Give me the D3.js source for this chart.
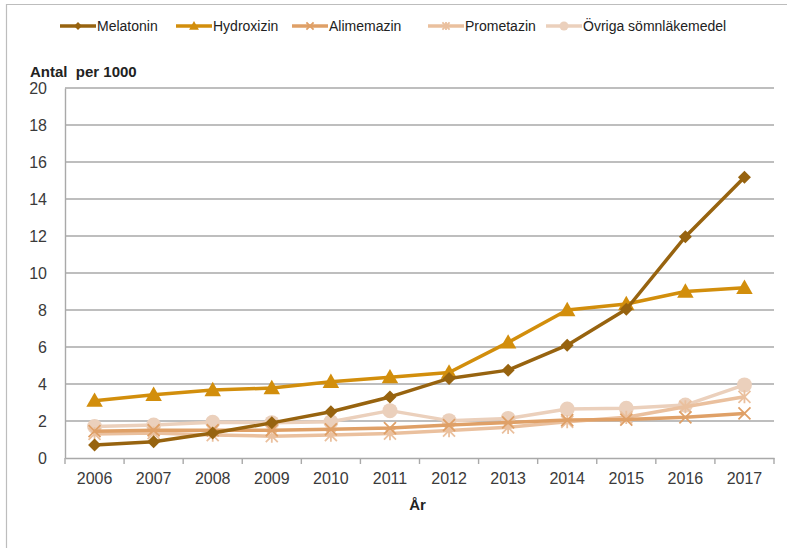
<!DOCTYPE html>
<html>
<head>
<meta charset="utf-8">
<script src="https://cdn.jsdelivr.net/npm/d3@7"></script>
<style>
  html, body { margin: 0; padding: 0; background: #fff; }
  svg { display: block; font-family: "Liberation Sans", Arial, sans-serif; }
</style>
</head>
<body>
<svg id="chart" width="787" height="548"></svg>
<script>
// Years on the x axis
const years = ["2006","2007","2008","2009","2010","2011","2012","2013","2014","2015","2016","2017"];

// Users per 1000, one array per drug group
const melatonin  = [0.7, 0.88, 1.35, 1.9, 2.5, 3.3, 4.3, 4.75, 6.1, 8.04, 11.96, 15.17];
const hydroxizin = [3.1, 3.42, 3.67, 3.78, 4.12, 4.37, 4.62, 6.25, 8.0, 8.32, 9.0, 9.2];
const alimemazin = [1.45, 1.5, 1.5, 1.5, 1.55, 1.62, 1.78, 1.92, 2.05, 2.08, 2.2, 2.41];
const prometazin = [1.3, 1.35, 1.24, 1.18, 1.24, 1.32, 1.48, 1.66, 1.96, 2.2, 2.77, 3.31];
const ovriga     = [1.7, 1.78, 1.93, 1.91, 1.96, 2.56, 2.02, 2.14, 2.65, 2.69, 2.86, 3.95];

const yTicks = [0, 2, 4, 6, 8, 10, 12, 14, 16, 18, 20];

const seriesNames = ["Melatonin", "Hydroxizin", "Alimemazin", "Prometazin", "Övriga sömnläkemedel"];
const seriesValues = [melatonin, hydroxizin, alimemazin, prometazin, ovriga];
const seriesColors = ["#97630f", "#d28e0c", "#dfa067", "#eac09e", "#ebd0bc"];
const seriesSymbols = ["diamond", "triangle", "x", "star", "circle"];

const series = seriesNames.map((name, i) => ({
  name, values: seriesValues[i], color: seriesColors[i], symbol: seriesSymbols[i]
}));

const svg = d3.select("#chart");
const plotLeft = 65, plotRight = 774, plotTop = 88, plotBottom = 458;

// Outer frame (top and left edges)
svg.append("line").attr("x1", 6).attr("x2", 787).attr("y1", 4.5).attr("y2", 4.5)
  .attr("stroke", "#bdbdbd").attr("stroke-width", 1.2);
svg.append("line").attr("x1", 6.5).attr("x2", 6.5).attr("y1", 4).attr("y2", 548)
  .attr("stroke", "#bdbdbd").attr("stroke-width", 1.2);

const x = d3.scaleBand().domain(years).range([plotLeft, plotRight]);
const xc = d => x(d) + x.bandwidth() / 2;
const y = d3.scaleLinear().domain([0, 20]).range([plotBottom, plotTop]);

// Horizontal gridlines
svg.append("g").selectAll("line").data(yTicks.filter(t => t > 0)).join("line")
  .attr("x1", plotLeft).attr("x2", plotRight)
  .attr("y1", d => y(d)).attr("y2", d => y(d))
  .attr("stroke", "#a9a9a9").attr("stroke-width", 1.4);

// Y axis
const yAxis = svg.append("g").attr("transform", `translate(${plotLeft},0)`)
  .call(d3.axisLeft(y).tickValues(yTicks).tickSize(0).tickPadding(18));
yAxis.select(".domain").attr("stroke", "#a9a9a9").attr("stroke-width", 1.4);
yAxis.selectAll("text").attr("font-size", 16).attr("fill", "#3a3a3a")
  .attr("font-family", "Liberation Sans, Arial, sans-serif");

// X axis with ticks at category boundaries
const xAxis = svg.append("g").attr("transform", `translate(0,${plotBottom})`)
  .call(d3.axisBottom(x).tickSize(0).tickPadding(15));
xAxis.select(".domain").attr("stroke", "#a9a9a9").attr("stroke-width", 1.4);
xAxis.selectAll("text").attr("font-size", 16).attr("fill", "#3a3a3a")
  .attr("font-family", "Liberation Sans, Arial, sans-serif");
const bounds = years.map(d => x(d)).concat([plotRight]);
svg.append("g").selectAll("line").data(bounds).join("line")
  .attr("x1", d => d).attr("x2", d => d)
  .attr("y1", plotBottom).attr("y2", plotBottom + 6)
  .attr("stroke", "#a9a9a9").attr("stroke-width", 1.4);

// Axis titles
svg.append("text").attr("x", 30).attr("y", 77)
  .attr("font-size", 15).attr("font-weight", "bold").attr("fill", "#222")
  .attr("xml:space", "preserve").text("Antal  per 1000");
svg.append("text").attr("x", (plotLeft + plotRight) / 2 - 2).attr("y", 510)
  .attr("text-anchor", "middle")
  .attr("font-size", 15).attr("font-weight", "bold").attr("fill", "#222").text("År");

// Marker drawing
function drawMarker(g, type, color, s) {
  if (type === "diamond") {
    g.append("path").attr("d", `M0,${-s}L${s},0L0,${s}L${-s},0Z`).attr("fill", color);
  } else if (type === "triangle") {
    const h = s * 1.1;
    g.append("path").attr("d", `M0,${-h}L${h},${h * 0.75}L${-h},${h * 0.75}Z`).attr("fill", color);
  } else if (type === "x") {
    g.append("path").attr("d", `M${-s},${-s}L${s},${s}M${-s},${s}L${s},${-s}`)
      .attr("stroke", color).attr("stroke-width", 1.8).attr("fill", "none");
  } else if (type === "star") {
    g.append("path").attr("d", `M${-s},${-s}L${s},${s}M${-s},${s}L${s},${-s}M0,${-s * 1.1}L0,${s * 1.1}`)
      .attr("stroke", color).attr("stroke-width", 1.8).attr("fill", "none");
  } else if (type === "circle") {
    g.append("circle").attr("r", s).attr("fill", color);
  }
}

const markerSize = { diamond: 6.5, triangle: 7.5, x: 6, star: 6, circle: 7.5 };

// Lines and markers, drawn from the back series to the front one
const line = d3.line().x((d, i) => xc(years[i])).y(d => y(d));
const plot = svg.append("g");
series.slice().reverse().forEach(s => {
  plot.append("path").datum(s.values)
    .attr("d", line).attr("fill", "none")
    .attr("stroke", s.color).attr("stroke-width", 3.5).attr("stroke-linejoin", "round");
  s.values.forEach((v, i) => {
    const g = plot.append("g").attr("transform", `translate(${xc(years[i])},${y(v)})`);
    drawMarker(g, s.symbol, s.color, markerSize[s.symbol]);
  });
});

// Legend
const legendX = [60, 176, 292, 428, 546];
const legend = svg.append("g");
series.forEach((s, i) => {
  const lx = legendX[i], ly = 26;
  legend.append("line").attr("x1", lx).attr("x2", lx + 36).attr("y1", ly).attr("y2", ly)
    .attr("stroke", s.color).attr("stroke-width", 3.5);
  const g = legend.append("g").attr("transform", `translate(${lx + 18},${ly})`);
  drawMarker(g, s.symbol, s.color, markerSize[s.symbol] * 0.6);
  legend.append("text").attr("x", lx + 37).attr("y", ly + 5)
    .attr("font-size", 14).attr("fill", "#222").text(s.name);
});
</script>
</body>
</html>
